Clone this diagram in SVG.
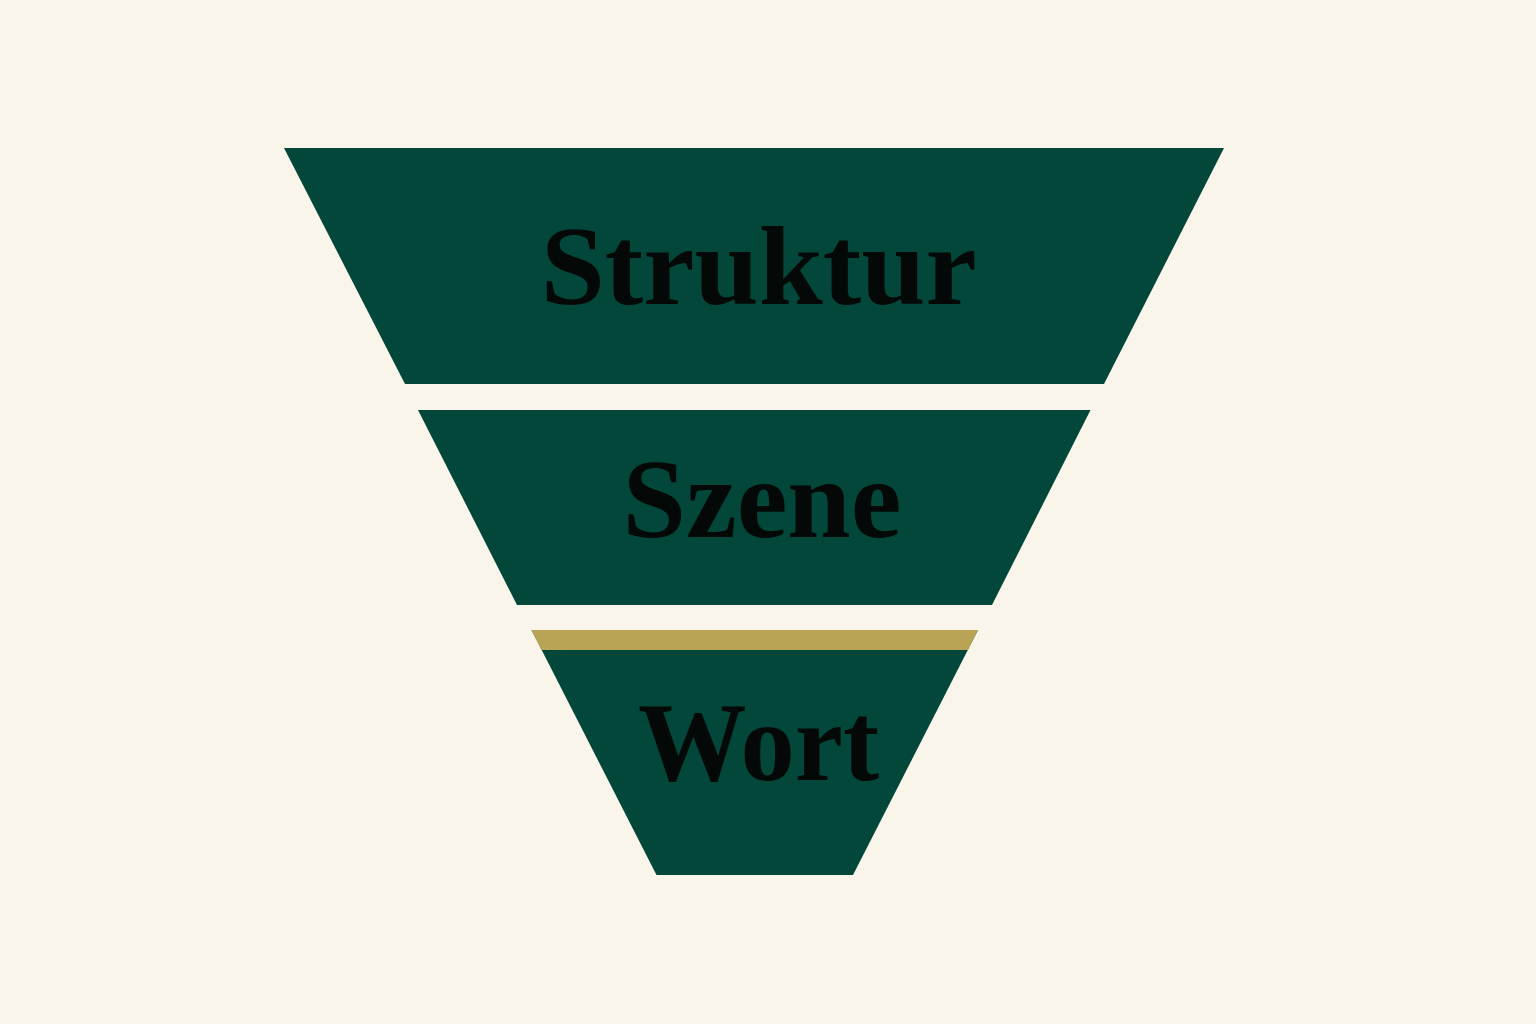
<svg xmlns="http://www.w3.org/2000/svg" width="1536" height="1024" viewBox="0 0 1536 1024">
  <style>
    .tier { fill: #02473A; }
    .band { fill: #B9A455; }
    .label { font-family: "Liberation Serif", "DejaVu Serif", serif; font-weight: bold; font-size: 112px; fill: #040807; text-anchor: middle; }
  </style>
  <rect x="0" y="0" width="1536" height="1024" fill="#FAF5EA"/>
  <g id="tier-struktur">
    <polygon class="tier" points="284,148 1224,148 1104,384 405,384"/>
    <text class="label" x="758.7" y="304" textLength="436" lengthAdjust="spacingAndGlyphs">Struktur</text>
  </g>
  <g id="tier-szene">
    <polygon class="tier" points="418,410 1090.5,410 992,605 517,605"/>
    <text class="label" x="762" y="537" textLength="279" lengthAdjust="spacingAndGlyphs">Szene</text>
  </g>
  <g id="tier-wort">
    <polygon class="tier" points="531.5,630 978,630 853,875 656.5,875"/>
    <polygon class="band" points="531.5,630 978,630 968,650 541.5,650"/>
    <text class="label" x="758.5" y="780" textLength="241" lengthAdjust="spacingAndGlyphs">Wort</text>
  </g>
  <g id="connectors"/>
</svg>
